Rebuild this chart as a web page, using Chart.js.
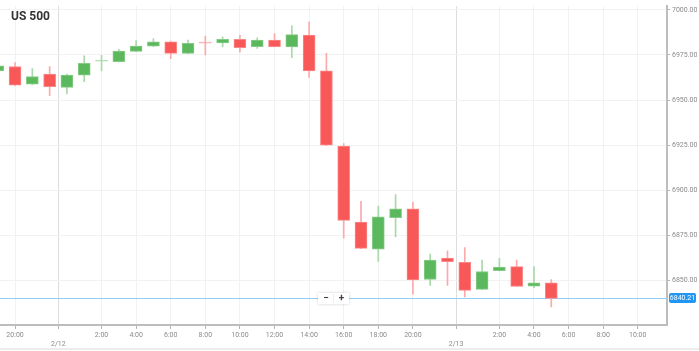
<!DOCTYPE html>
<html>
<head>
<meta charset="utf-8">
<script src="https://cdn.jsdelivr.net/npm/chart.js@4.4.1/dist/chart.umd.min.js"></script>
<style>
  html, body { margin: 0; padding: 0; background: #fff; }
  #wrap { position: relative; width: 699px; height: 351px; overflow: hidden; }
  #title { position: absolute; left: 11px; top: 9px; font: bold 12px Roboto, sans-serif; color: #333; }
  #foot { position: absolute; left: 0; right: 0; top: 348px; height: 2px; background: #ececec; }
</style>
</head>
<body>
<div id="wrap">
  <canvas id="chart"></canvas>
  <div id="title">US 500</div>
  <div id="foot"></div>
</div>
<script>
// hourly candles, 2/11 19:00 -> 2/13 5:00 (no 23:00 bar)
const hours = ["19:00", "20:00", "21:00", "22:00", "0:00", "1:00", "2:00", "3:00", "4:00", "5:00",
  "6:00", "7:00", "8:00", "9:00", "10:00", "11:00", "12:00", "13:00", "14:00", "15:00",
  "16:00", "17:00", "18:00", "19:00", "20:00", "21:00", "22:00", "0:00", "1:00", "2:00",
  "3:00", "4:00", "5:00"];
const open = [6966.2, 6968.6, 6958.9, 6964.4, 6957.1, 6963.8, 6971.6, 6971.3, 6977.0, 6979.9,
  6982.3, 6975.9, 6981.8, 6981.7, 6983.6, 6979.6, 6983.2, 6979.4, 6986.0, 6966.2,
  6924.6, 6882.5, 6867.5, 6884.9, 6889.8, 6850.7, 6862.6, 6860.2, 6845.2, 6855.6,
  6857.8, 6847.0, 6848.9];
const high = [6969.5, 6970.8, 6967.5, 6968.6, 6964.4, 6974.5, 6974.8, 6978.1, 6983.0, 6984.1,
  6982.7, 6983.2, 6985.4, 6985.0, 6986.0, 6984.5, 6986.8, 6991.2, 6993.3, 6975.9,
  6926.0, 6894.0, 6891.3, 6897.7, 6893.5, 6864.8, 6866.6, 6868.4, 6861.5, 6862.4,
  6861.5, 6857.8, 6850.7];
const low = [6965.8, 6958.0, 6958.6, 6952.5, 6953.4, 6960.2, 6966.2, 6971.2, 6976.8, 6979.6,
  6973.0, 6975.7, 6975.0, 6979.4, 6976.6, 6978.6, 6979.4, 6973.5, 6962.6, 6924.8,
  6873.6, 6867.7, 6860.7, 6874.3, 6842.5, 6847.4, 6847.4, 6841.0, 6845.0, 6855.4,
  6846.7, 6846.1, 6835.5];
const close = [6969.0, 6958.3, 6963.1, 6957.5, 6963.8, 6970.4, 6971.8, 6977.2, 6979.9, 6982.3,
  6975.9, 6981.4, 6981.6, 6983.6, 6979.0, 6983.2, 6979.6, 6986.3, 6966.2, 6925.1,
  6883.4, 6867.9, 6885.4, 6889.8, 6850.5, 6861.5, 6860.6, 6844.7, 6855.1, 6857.5,
  6846.9, 6848.9, 6840.21];

const firstSlot = -1; // first bar sits one slot left of the 20:00 tick
const xMin = -0.87;
const xMax = 37.69;
const xTickPos = [0, 2.5, 5, 7, 9, 11, 13, 15, 17, 19, 21, 23, 25.5, 28, 30, 32, 34, 36];
const xTickLabels = ["20:00", ["", "2/12"], "2:00", "4:00", "6:00", "8:00", "10:00", "12:00", "14:00",
  "16:00", "18:00", "20:00", ["", "2/13"], "2:00", "4:00", "6:00", "8:00", "10:00"];
const yTicks = [6850, 6875, 6900, 6925, 6950, 6975, 7000];
const yMin = 6825.5;
const yMax = 7002.0;

const UP = "#5cb85c", UP_EDGE = "#86cc86", UP_WICK = "#a8d9a8";
const DN = "#f95858", DN_EDGE = "#fb8888", DN_WICK = "#fbaaaa";

const isUp = open.map((o, i) => close[i] >= o);
const isDoji = open.map((o, i) => Math.abs(close[i] - o) < 0.5);
const xs = open.map((_, i) => firstSlot + i);

const bodyFill = open.map((_, i) => isDoji[i] ? (isUp[i] ? UP_WICK : DN_WICK) : (isUp[i] ? UP : DN));
const bodyEdge = open.map((_, i) => isDoji[i] ? bodyFill[i] : (isUp[i] ? UP_EDGE : DN_EDGE));
const wickFill = isUp.map(u => u ? UP_WICK : DN_WICK);

const fmt = (v) => v.toFixed(2);

const priceLine = {
  id: "priceLine",
  beforeDatasetsDraw(chart) {
    const { ctx, chartArea: a, scales: { y } } = chart;
    const py = Math.round(y.getPixelForValue(close[close.length - 1])) + 0.5;
    ctx.save();
    ctx.strokeStyle = "#92cdf3";
    ctx.lineWidth = 1;
    ctx.beginPath();
    ctx.moveTo(a.left, py);
    ctx.lineTo(a.right, py);
    ctx.stroke();
    ctx.restore();
  },
  afterDraw(chart) {
    const { ctx, chartArea: a, scales: { y } } = chart;
    const last = close[close.length - 1];
    const py = Math.round(y.getPixelForValue(last));
    ctx.save();
    // price tag on the axis
    ctx.fillStyle = "#2196f3";
    ctx.beginPath();
    ctx.roundRect(a.right + 2, py - 5, 27, 10, 2);
    ctx.fill();
    ctx.fillStyle = "#fff";
    ctx.font = "7px Roboto";
    ctx.textBaseline = "middle";
    ctx.textAlign = "center";
    ctx.fillText(fmt(last), a.right + 15.5, py + 0.5);
    // zoom buttons
    const cx = Math.round((a.left + a.right) / 2);
    const by = a.bottom - 32;
    ctx.shadowColor = "rgba(0,0,0,0.18)";
    ctx.shadowBlur = 3;
    ctx.fillStyle = "#fff";
    ctx.fillRect(cx - 16, by, 31, 11);
    ctx.shadowBlur = 0;
    ctx.strokeStyle = "#eee";
    ctx.beginPath();
    ctx.moveTo(cx - 0.5, by + 1);
    ctx.lineTo(cx - 0.5, by + 10);
    ctx.stroke();
    ctx.fillStyle = "#444";
    ctx.font = "bold 10px Roboto";
    ctx.fillText("\u2212", cx - 8, by + 5.5);
    ctx.fillText("+", cx + 7.5, by + 5.5);
    ctx.restore();
  },
};

new Chart(document.getElementById("chart"), {
  type: "bar",
  data: {
    datasets: [
      {
        label: "body",
        data: xs.map((x, i) => ({ x, y: [open[i], close[i]] })),
        backgroundColor: bodyFill,
        borderColor: bodyEdge,
        borderWidth: 1,
        borderSkipped: false,
        barThickness: 12,
        minBarLength: 1,
        grouped: false,
        order: 1,
      },
      {
        label: "wick",
        data: xs.map((x, i) => ({ x, y: [low[i], high[i]] })),
        backgroundColor: wickFill,
        borderWidth: 0,
        barThickness: 1,
        grouped: false,
        order: 2,
      },
    ],
  },
  options: {
    responsive: true,
    maintainAspectRatio: false,
    animation: false,
    layout: { padding: { top: 3, left: 0, right: 0, bottom: 0 } },
    plugins: { legend: { display: false }, tooltip: { enabled: false } },
    scales: {
      x: {
        type: "linear",
        min: xMin,
        max: xMax,
        offset: false,
        afterBuildTicks: (s) => { s.ticks = xTickPos.map((v) => ({ value: v })); },
        afterFit: (s) => { s.height = 26; },
        ticks: {
          autoSkip: false,
          maxRotation: 0,
          padding: 1,
          color: "#8a8a8a",
          font: { family: "Roboto", size: 7, lineHeight: 1.4 },
          callback: (v, i) => xTickLabels[i],
        },
        grid: {
          offset: false,
          color: (c) => (c.tick && Array.isArray(xTickLabels[c.index]) ? "#dddddd" : "#f2f2f2"),
          tickColor: "#b5b5b5",
          tickLength: 4,
        },
        border: { color: "#bdbdbd", width: 2 },
      },
      y: {
        position: "right",
        min: yMin,
        max: yMax,
        afterBuildTicks: (s) => { s.ticks = yTicks.map((v) => ({ value: v })); },
        afterFit: (s) => { s.width = 32; },
        ticks: {
          padding: 2,
          color: "#8a8a8a",
          font: { family: "Roboto", size: 7 },
          callback: (v) => fmt(v),
        },
        grid: { color: "#f2f2f2", tickColor: "#b5b5b5", tickLength: 3 },
        border: { color: "#bdbdbd", width: 2 },
      },
    },
  },
  plugins: [priceLine],
});
</script>
</body>
</html>
